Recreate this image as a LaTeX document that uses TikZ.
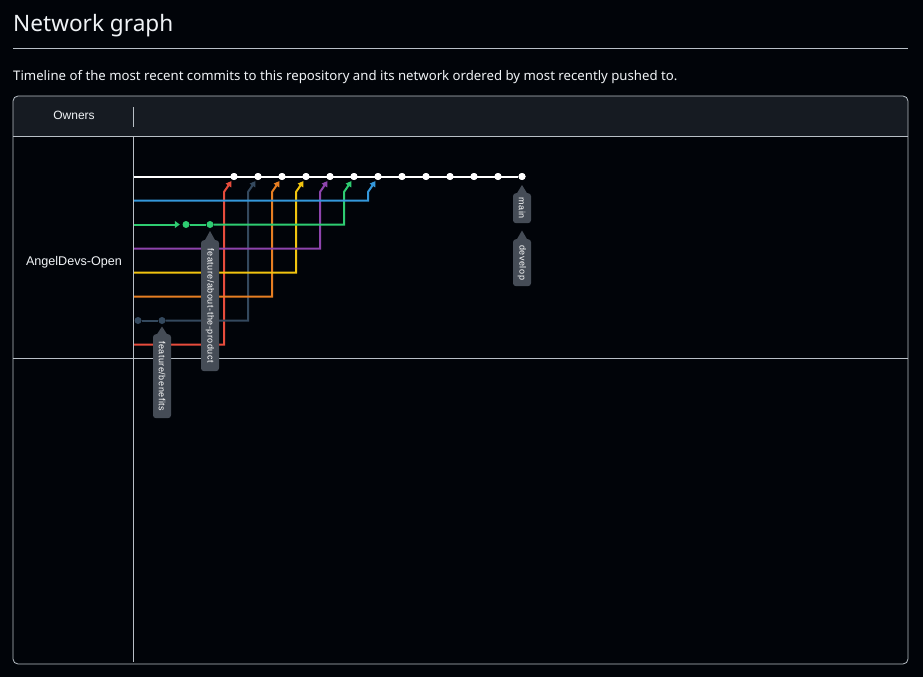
\documentclass[tikz,border=0pt]{standalone}
\usepackage{fontspec}
\setmainfont{Noto Sans}
\newfontfamily\arialf{Liberation Sans}
\usetikzlibrary{arrows.meta,calc}
\definecolor{bgc}{HTML}{010409}
\definecolor{headc}{HTML}{161B22}
\definecolor{linec}{HTML}{B8BFC6}
\definecolor{txtc}{HTML}{F0F3F6}
\definecolor{tagc}{HTML}{454C56}
\definecolor{redc}{HTML}{E74C3C}
\definecolor{bluec}{HTML}{3498DB}
\definecolor{greenc}{HTML}{2ECC71}
\definecolor{purplec}{HTML}{8E44AD}
\definecolor{yellowc}{HTML}{F1C40F}
\definecolor{orangec}{HTML}{E67E22}
\definecolor{slatec}{HTML}{34495E}
\tikzset{
  wdot/.style={circle,fill=white,inner sep=0pt,minimum size=7pt},
  cdot/.style={circle,fill=#1,inner sep=0pt,minimum size=7pt},
  branch/.style={draw=#1,line width=2pt,-{Triangle[length=5.5pt,width=6.5pt]}},
  rowline/.style={draw=#1,line width=2pt},
  tagbox/.style={fill=tagc,rounded corners=3pt,rotate=-90,anchor=west,
    minimum height=18pt,inner sep=0pt,text=white,
    font=\arialf\fontsize{9}{10}\selectfont\addfontfeature{LetterSpace=6}},
  frame/.style={draw=linec,line width=0.8pt},
}
\begin{document}
\begin{tikzpicture}[x=1pt,y=-1pt]
\useasboundingbox (0,0) rectangle (923,677);
\fill[bgc] (0,0) rectangle (923,677);
% title
\node[anchor=base west,inner sep=0pt,text=txtc,font=\fontsize{22.6}{26}\selectfont] (title) at (13,32) {Network graph};
\draw[frame] (13,48) -- (908,48);
\node[anchor=base west,inner sep=0pt,text=txtc,font=\fontsize{13.2}{16}\selectfont] (sub) at (13,80.5) {Timeline of the most recent commits to this repository and its network ordered by most recently pushed to.};
% box
\begin{scope}
\clip[rounded corners=5pt] (13,96) rectangle (908,664);
\fill[headc] (13,96) rectangle (908,136.5);
\end{scope}
\draw[frame,rounded corners=5pt] (13,96) rectangle (908,664);
\draw[frame] (13,136.5) -- (908,136.5);
\draw[frame] (13,358) -- (908,358);
\draw[frame] (133.5,107) -- (133.5,127);
\draw[frame] (133.5,136.5) -- (133.5,662);
\node[text=txtc,font=\arialf\fontsize{12}{14}\selectfont] (owners) at (74,115.5) {Owners};
\node[text=txtc,font=\arialf\fontsize{12.6}{14}\selectfont] (owner) at (74,262) {AngelDevs-Open};
% main line commits
\coordinate (mS) at (134,176.5);
\foreach \i in {1,...,13}{
  \node[wdot] (m\i) at ({234+24*(\i-1)},176.5) {};
}
\draw[white,line width=2pt] (mS) -- (m13);
\foreach \i in {1,...,13}{
  \node[wdot] at (m\i) {};
}
% branch rows
\coordinate (rS) at (134,344.5);
\coordinate (oS) at (134,296.5);
\coordinate (yS) at (134,272.5);
\coordinate (pS) at (134,248.5);
\coordinate (gS) at (134,224.5);
\coordinate (bS) at (134,200.5);
\node[cdot=slatec] (s1) at (138,320.5) {};
\node[cdot=slatec] (s2) at (162,320.5) {};
\node[cdot=greenc] (g1) at (186,224.5) {};
\node[cdot=greenc] (g2) at (210,224.5) {};
% red -> m1
\draw[branch=redc] (rS) -| ($(m1)+(-10,15.5)$) -- ($(m1)+(-2.5,4.5)$);
% slate -> m2
\draw[rowline=slatec] (s1) -- (s2);
\draw[branch=slatec] (s2) -| ($(m2)+(-10,15.5)$) -- ($(m2)+(-2.5,4.5)$);
% orange -> m3
\draw[branch=orangec] (oS) -| ($(m3)+(-10,15.5)$) -- ($(m3)+(-2.5,4.5)$);
% yellow -> m4
\draw[branch=yellowc] (yS) -| ($(m4)+(-10,15.5)$) -- ($(m4)+(-2.5,4.5)$);
% purple -> m5
\draw[branch=purplec] (pS) -| ($(m5)+(-10,15.5)$) -- ($(m5)+(-2.5,4.5)$);
% green -> m6
\draw[draw=greenc,line width=2pt,-{Triangle[length=5pt,width=7pt]}] (gS) -- ([xshift=-2.5pt]g1.west);
\draw[rowline=greenc] (g1) -- (g2);
\draw[branch=greenc] (g2) -| ($(m6)+(-10,15.5)$) -- ($(m6)+(-2.5,4.5)$);
% blue -> m7
\draw[branch=bluec] (bS) -| ($(m7)+(-10,15.5)$) -- ($(m7)+(-2.5,4.5)$);
% tags
\node[tagbox,minimum width=131pt] (tagA) at (210,240) {feature/about-the-product};
\fill[tagc] (204.5,241) -- (210,231) -- (215.5,241) -- cycle;
\node[tagbox,minimum width=84pt] (tagB) at (162,334) {feature/benefits};
\fill[tagc] (156.5,335) -- (162,326.5) -- (167.5,335) -- cycle;
\node[tagbox,minimum width=30pt] (tagM) at (522,193) {main};
\fill[tagc] (516.5,194) -- (522,185) -- (527.5,194) -- cycle;
\node[tagbox,minimum width=47pt] (tagD) at (522,239) {develop};
\fill[tagc] (516.5,240) -- (522,230.5) -- (527.5,240) -- cycle;
\end{tikzpicture}
\end{document}
